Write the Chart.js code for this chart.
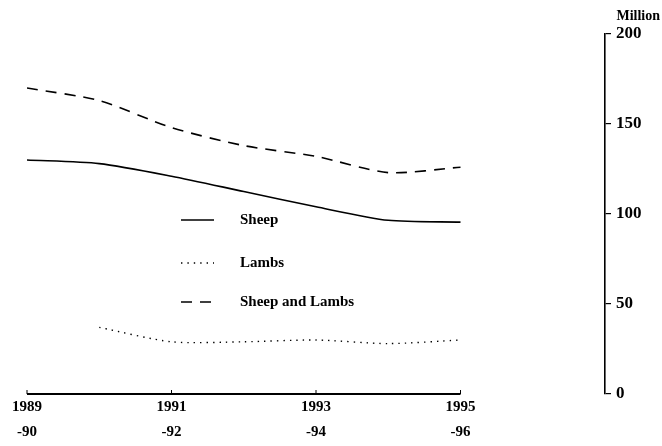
<!DOCTYPE html>
<html>
<head>
<meta charset="utf-8">
<script src="https://cdn.jsdelivr.net/npm/chart.js@4/dist/chart.umd.min.js"></script>
<style>
html,body{margin:0;padding:0;background:#fff;}
#wrap{width:662px;height:446px;position:relative;}
</style>
</head>
<body>
<div id="wrap"><canvas id="c" width="662" height="446"></canvas></div>
<script>
// Data (millions)
const seasons = [1989, 1990, 1991, 1992, 1993, 1994, 1995];
const sheep = [130, 128, 121, 112.5, 104, 96.5, 95.5];
const lambs = [null, 37, 29, 29, 30, 28, 30];
const sheepAndLambs = [170, 163, 148, 138, 132, 123, 126];
const xTickValues = [1989, 1991, 1993, 1995];
const yTickValues = [0, 50, 100, 150, 200];
const seriesNames = ['Sheep', 'Lambs', 'Sheep and Lambs'];
const unitLabel = 'Million';

const FONT = '"Liberation Serif", "DejaVu Serif", serif';

function pts(arr){ return seasons.map((s,i)=>({x:s, y:arr[i]})); }

const overlay = {
  id:'overlay',
  afterDraw(chart){
    const ctx = chart.ctx;
    const xs = chart.scales.x, ys = chart.scales.y;
    const y0 = ys.getPixelForValue(0);
    const xa = xs.getPixelForValue(xTickValues[0]);
    const xb = xs.getPixelForValue(xTickValues[xTickValues.length-1]);
    ctx.save();
    // custom x axis line spanning data range
    ctx.strokeStyle = '#000';
    ctx.lineWidth = 2;
    ctx.beginPath();
    ctx.moveTo(xa, y0); ctx.lineTo(xb, y0);
    ctx.stroke();
    ctx.lineWidth = 1;
    xTickValues.forEach(v=>{
      const px = xs.getPixelForValue(v);
      ctx.beginPath(); ctx.moveTo(px, y0); ctx.lineTo(px, y0-4); ctx.stroke();
    });
    // unit label
    ctx.fillStyle = '#000';
    ctx.font = 'bold 14px ' + FONT;
    ctx.textAlign = 'right';
    ctx.textBaseline = 'middle';
    ctx.fillText(unitLabel, 660, 16);
    // legend
    ctx.font = 'bold 15px ' + FONT;
    ctx.textAlign = 'left';
    const lx0 = chart.chartArea.left + 154, lx1 = lx0 + 33, tx = lx0 + 59;
    const rows = [220, 263, 302];
    chart.data.datasets.forEach((ds,i)=>{
      const y = rows[i];
      ctx.strokeStyle = '#000';
      ctx.lineWidth = ds.borderWidth;
      ctx.setLineDash(ds.borderDash || []);
      ctx.beginPath(); ctx.moveTo(lx0, y); ctx.lineTo(lx1, y); ctx.stroke();
      ctx.setLineDash([]);
      ctx.fillText(seriesNames[i], tx, y);
    });
    ctx.restore();
  }
};

new Chart(document.getElementById('c'), {
  type:'line',
  data:{
    datasets:[
      {label:seriesNames[0], data:pts(sheep), borderColor:'#000', borderWidth:1.6, pointRadius:0, tension:0.25, fill:false},
      {label:seriesNames[1], data:pts(lambs), borderColor:'#000', borderWidth:1.4, borderDash:[1.4,5], pointRadius:0, tension:0.25, fill:false, spanGaps:false},
      {label:seriesNames[2], data:pts(sheepAndLambs), borderColor:'#000', borderWidth:1.6, borderDash:[11,8], pointRadius:0, tension:0.25, fill:false}
    ]
  },
  options:{
    responsive:false,
    animation:false,
    devicePixelRatio:1,
    layout:{padding:{left:27, top:34, right:0, bottom:0}},
    plugins:{legend:{display:false}, tooltip:{enabled:false}, title:{display:false}},
    scales:{
      x:{
        type:'linear', min:1989, max:1997,
        grid:{display:false}, border:{display:false},
        afterBuildTicks(scale){ scale.ticks = xTickValues.map(v=>({value:v})); },
        afterFit(scale){ scale.height = 52; },
        ticks:{
          autoSkip:false, maxRotation:0, padding:-7,
          color:'#000', font:{family:FONT, size:15, weight:'bold', lineHeight:1.65},
          callback(v){ return [String(v), '-' + String(v+1).slice(2)]; }
        }
      },
      y:{
        position:'right', min:0, max:200,
        afterBuildTicks(scale){ scale.ticks = yTickValues.map(v=>({value:v})); },
        afterFit(scale){ scale.width = 57; },
        grid:{drawOnChartArea:false, drawTicks:true, tickLength:6, color:'#000', lineWidth:1.2},
        border:{display:true, color:'#000', width:1.6},
        ticks:{color:'#000', padding:5, font:{family:FONT, size:17, weight:'bold'}}
      }
    }
  },
  plugins:[overlay]
});
</script>
</body>
</html>
